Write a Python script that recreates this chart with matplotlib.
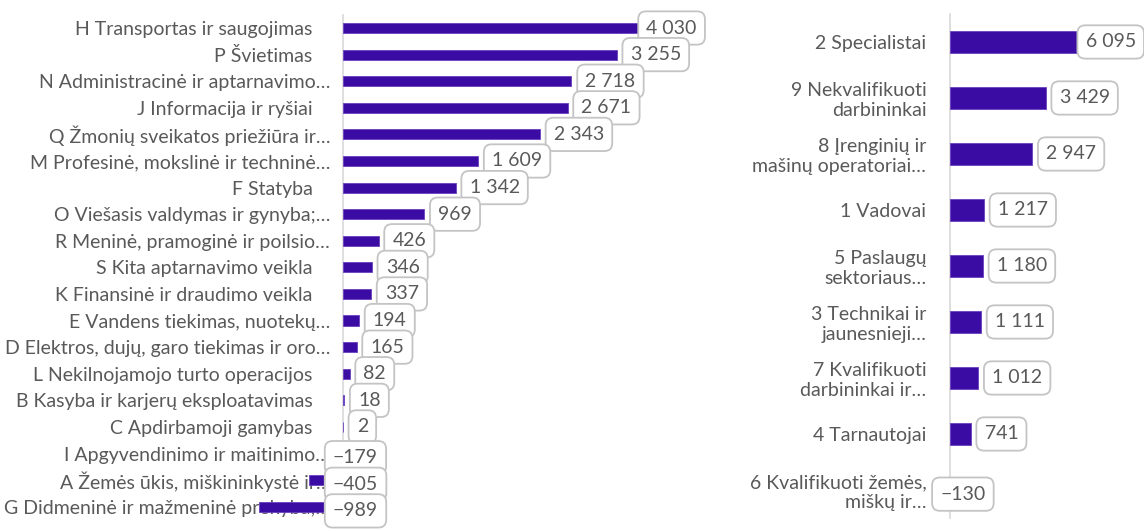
import matplotlib
matplotlib.use('Agg')
import matplotlib.pyplot as plt
from matplotlib.transforms import ScaledTranslation

plt.rcParams['font.family'] = ['Lato', 'DejaVu Sans']

# veiklos sritys (kairė)
sektoriai = ['H Transportas ir saugojimas ', 'P Švietimas ', 'N Administracinė ir aptarnavimo…',
             'J Informacija ir ryšiai ', 'Q Žmonių sveikatos priežiūra ir…',
             'M Profesinė, mokslinė ir techninė…', 'F Statyba ', 'O Viešasis valdymas ir gynyba;…',
             'R Meninė, pramoginė ir poilsio…', 'S Kita aptarnavimo veikla ',
             'K Finansinė ir draudimo veikla ', 'E Vandens tiekimas, nuotekų…',
             'D Elektros, dujų, garo tiekimas ir oro…', 'L Nekilnojamojo turto operacijos ',
             'B Kasyba ir karjerų eksploatavimas ', 'C Apdirbamoji gamybas ',
             'I Apgyvendinimo ir maitinimo…', 'A Žemės ūkis, miškininkystė ir…',
             'G Didmeninė ir mažmeninė prekyba;…']
sektoriu_pokytis = [4030, 3255, 2718, 2671, 2343, 1609, 1342, 969, 426, 346, 337,
                    194, 165, 82, 18, 2, -179, -405, -989]

# profesijos (dešinė)
profesijos = ['2 Specialistai', '9 Nekvalifikuoti\ndarbininkai', '8 Įrenginių ir\nmašinų operatoriai…',
              '1 Vadovai', '5 Paslaugų\nsektoriaus…', '3 Technikai ir\njaunesnieji…',
              '7 Kvalifikuoti\ndarbininkai ir…', '4 Tarnautojai', '6 Kvalifikuoti žemės,\nmiškų ir…']
profesiju_pokytis = [6095, 3429, 2947, 1217, 1180, 1111, 1012, 741, -130]

BAR = '#3a0ca3'
TXT = '#595959'

fig = plt.figure(figsize=(11.44, 5.31), dpi=100)
ax1 = fig.add_axes([0.2185, 0.0207, 0.3977, 0.9516])
ax2 = fig.add_axes([0.8129, 0.0245, 0.1871, 0.9492])


def fmt(v):
    return f'{v:,}'.replace(',', ' ').replace('-', '\u2212')


def draw(ax, labels, values, xlim, pad):
    y = list(range(len(values)))
    ax.barh(y, values, height=0.38, color=BAR, edgecolor='#6a3fc0', linewidth=0.6, zorder=3)
    for s in ['top', 'right', 'bottom']:
        ax.spines[s].set_visible(False)
    ax.spines['left'].set_position(('data', 0))
    ax.spines['left'].set_color('#d9d9d9')
    ax.spines['left'].set_linewidth(1.2)
    ax.set_xlim(*xlim)
    ax.set_ylim(len(values) - 0.5, -0.5)
    ax.set_yticks(y)
    ax.set_yticklabels(labels)
    ax.tick_params(axis='y', length=0, pad=pad, labelsize=14, labelcolor=TXT)
    ax.xaxis.set_visible(False)
    ax.patch.set_alpha(0)
    # galinis tarpas pavadinime (kaip Excel'yje) – paslenkam kairėn
    for t, lbl in zip(ax.yaxis.get_major_ticks(), labels):
        if lbl.endswith(' '):
            t.label1.set_transform(t.label1.get_transform()
                                   + ScaledTranslation(-9 / 72, 0, fig.dpi_scale_trans))
    anns = []
    for i, v in enumerate(values):
        if v >= 0:
            xy, off = (v, i), (10, 0)
        else:
            xy, off = (0, i), (-7, -3)
        a = ax.annotate(fmt(v), xy=xy, xytext=off, textcoords='offset points',
                        ha='left', va='center', fontsize=14, color=TXT, zorder=4,
                        bbox=dict(boxstyle='round,pad=0.42,rounding_size=0.4',
                                  fc='white', ec='#c4c4c4', lw=1.3))
        anns.append(a)
    return anns


anns1 = draw(ax1, sektoriai, sektoriu_pokytis, (-1101, 4303), 9)
anns2 = draw(ax2, profesijos, profesiju_pokytis, (-717, 6953), 17)

# etiketės neturi išlįsti už grafiko ribų
fig.canvas.draw()
r = fig.canvas.get_renderer()
for ax, anns in [(ax1, anns1), (ax2, anns2)]:
    right = ax.get_window_extent(r).x1
    for a in anns:
        bb = a.get_bbox_patch().get_window_extent(r)
        if bb.x1 > right:
            dx = (bb.x1 - right) * 72 / fig.dpi
            x, y = a.xyann
            a.xyann = (x - dx, y)

fig.savefig('out.png', dpi=100)
